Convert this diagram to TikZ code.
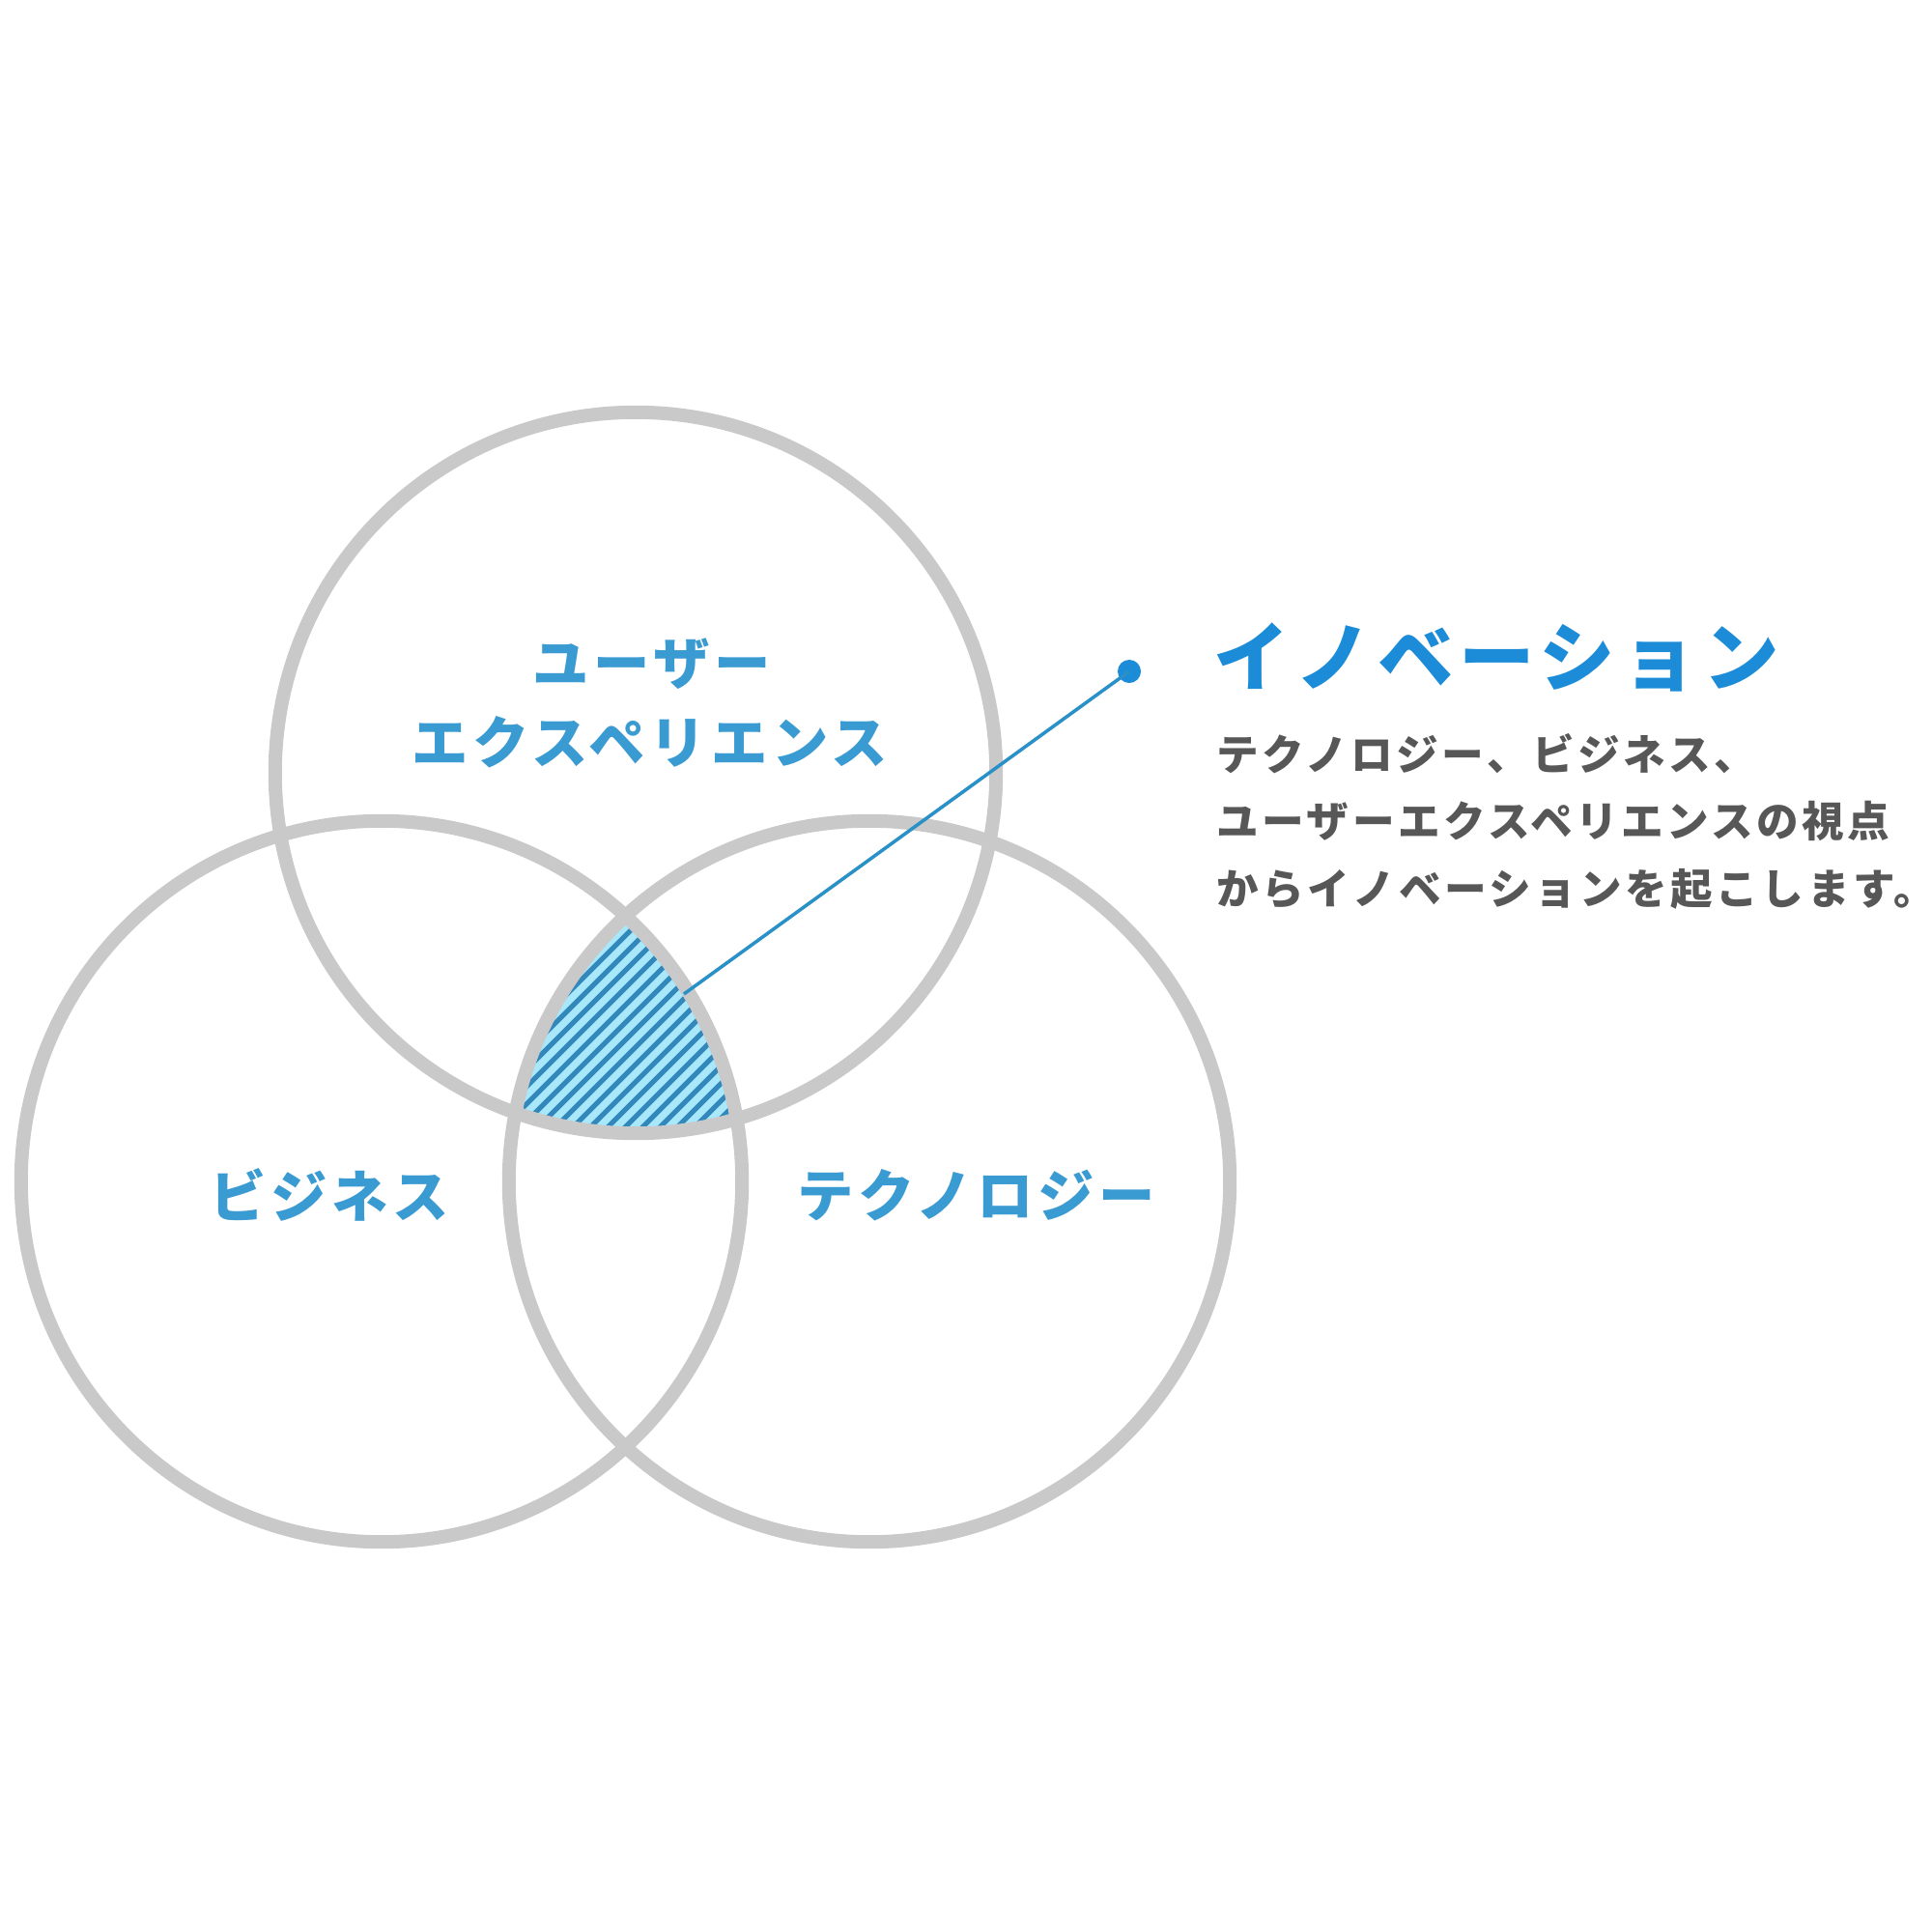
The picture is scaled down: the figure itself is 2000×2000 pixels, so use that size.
\documentclass[tikz,border=0pt]{standalone}
\usepackage{fontspec}
\newfontfamily\jpfont[LetterSpace=8]{Noto Sans CJK JP}
\definecolor{ringgray}{HTML}{C9C9C9}
\definecolor{lblblue}{HTML}{3A9AD2}
\definecolor{titleblue}{HTML}{1C8CD8}
\definecolor{leadblue}{HTML}{2A90C8}
\definecolor{descgray}{HTML}{575757}
\definecolor{hatchbg}{HTML}{A8E8FA}
\definecolor{hatchfg}{HTML}{3288BB}
\tikzset{
  ring/.style={draw=ringgray, line width=0.14cm},
  lbl/.style={inner sep=0pt, text=lblblue, font=\jpfont\bfseries\fontsize{16.6pt}{20pt}\selectfont},
  ttl/.style={inner sep=0pt, anchor=west, text=titleblue, font=\jpfont\bfseries\fontsize{22.3pt}{26pt}\selectfont},
  dsc/.style={inner sep=0pt, anchor=west, text=descgray, font=\jpfont\bfseries\fontsize{12.4pt}{14pt}\selectfont},
  leader/.style={draw=leadblue, line width=0.035cm},
  dotmark/.style={circle, fill=titleblue, inner sep=0pt, minimum size=0.24cm}
}
\begin{document}
\begin{tikzpicture}[x=0.01cm,y=-0.01cm]
\useasboundingbox[fill=white] (0,0) rectangle (2000,2000);
% hatched intersection
\begin{scope}
  \clip (658,800) circle[radius=3.73cm];
  \clip (395,1223) circle[radius=3.73cm];
  \clip (900,1223) circle[radius=3.73cm];
  \fill[hatchbg] (400,800) rectangle (900,1300);
  \foreach \k in {100,118,...,900} {
    \draw[hatchfg, line width=0.05cm] (\k,1300) -- (\k+500,800);
  }
\end{scope}
% circles
\draw[ring] (658,800) circle[radius=3.73cm];
\draw[ring] (395,1223) circle[radius=3.73cm];
\draw[ring] (900,1223) circle[radius=3.73cm];
% labels
\node[lbl] (ux1) at (675,687) {ユーザー};
\node[lbl] (ux2) at (673,768) {エクスペリエンス};
\node[lbl] (biz) at (341,1237) {ビジネス};
\node[lbl] (tech) at (1011,1237) {テクノロジー};
% leader
\node[dotmark] (dot) at (1169,695) {};
\coordinate (tip) at (708,1029);
\draw[leader] (dot.center) -- (tip);
% title and description
\node[ttl] (inno) at (1256,680) {イノベーション};
\node[dsc] (desc1) at (1259,780) {テクノロジー、ビジネス、};
\node[dsc] (desc2) at (1259,850) {ユーザーエクスペリエンスの視点};
\node[dsc] (desc3) at (1259,920) {からイノベーションを起こします。};
\end{tikzpicture}
\end{document}
